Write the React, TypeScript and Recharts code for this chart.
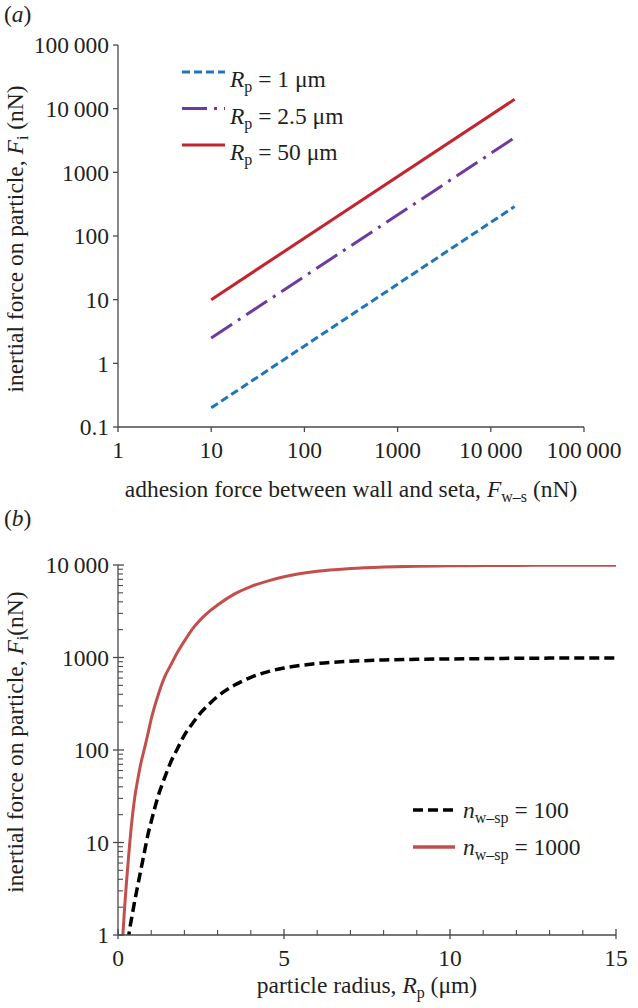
import React from "react";
import { LineChart, Line, XAxis, YAxis, Legend } from "recharts";

// (a) inertial force vs adhesion force, log-log
const adhesionForce = [10, 18000];
const inertialRp1 = [0.2, 290];
const inertialRp25 = [2.5, 3500];
const inertialRp50 = [10, 14000];
const forceTicksX = [1, 10, 100, 1000, 10000, 100000];
const forceTicksY = [0.1, 1, 10, 100, 1000, 10000, 100000];

// (b) inertial force vs particle radius
const radius = [
  0.1, 0.15, 0.2, 0.25, 0.3, 0.35, 0.4, 0.5, 0.6, 0.7, 0.8, 0.9, 1, 1.2, 1.4, 1.6, 1.8, 2, 2.25, 2.5,
  2.75, 3, 3.5, 4, 4.5, 5, 6, 7, 8, 9, 10, 11, 12, 13, 14, 15,
];
const inertialN100 = [
  null, null, null, null, 0.85, 1.15, 1.45, 2.3, 3.5, 5.3, 8, 12.1, 16.8, 31, 49.7, 75.5, 105, 145, 195, 255,
  315, 380, 500, 610, 700, 770, 860, 910, 940, 955, 965, 973, 980, 985, 988, 990,
];
const inertialN1000 = [
  0.6, 1.05, 2, 3.5, 5.8, 9.5, 14.8, 30, 49, 75, 105, 149, 216, 384, 609, 843, 1155, 1504, 2050, 2600,
  3150, 3700, 4850, 5850, 6700, 7450, 8550, 9150, 9500, 9700, 9800, 9860, 9900, 9920, 9935, 9950,
];
const radiusTicks = [0, 1, 2, 3, 4, 5, 6, 7, 8, 9, 10, 11, 12, 13, 14, 15];
const inertialTicks = [
  1, 2, 3, 4, 5, 6, 7, 8, 9, 10, 20, 30, 40, 50, 60, 70, 80, 90, 100, 200, 300, 400, 500, 600, 700, 800,
  900, 1000, 2000, 3000, 4000, 5000, 6000, 7000, 8000, 9000, 10000,
];

const dataA = adhesionForce.map((x, i) => ({
  x,
  rp1: inertialRp1[i],
  rp25: inertialRp25[i],
  rp50: inertialRp50[i],
}));

const dataB = radius.map((r, i) => ({ r, n100: inertialN100[i], n1000: inertialN1000[i] }));

const TEXT = "#231f20";
const AXIS = "#4a4a4a";
const FONT = "'Liberation Serif', 'Times New Roman', serif";
const FS = 23.5;
const SUB = 16;

const styleA: Record<string, { color: string; dash?: string }> = {
  rp1: { color: "#1f76ba", dash: "8 4" },
  rp25: { color: "#6d3a9f", dash: "25 7 3 7" },
  rp50: { color: "#c2252d" },
};
const styleB: Record<string, { color: string; dash?: string }> = {
  n100: { color: "#000000", dash: "10 5" },
  n1000: { color: "#c24f4c" },
};

function fmt(v: number) {
  if (v >= 10000) {
    const s = String(v);
    return s.slice(0, s.length - 3) + "\u2009" + s.slice(-3);
  }
  return String(v);
}

function isDecade(v: number) {
  const l = Math.log10(v);
  return Math.abs(l - Math.round(l)) < 1e-9;
}

function TickYA({ x, y, payload }: any) {
  return (
    <g>
      <line x1={x - 5} x2={x} y1={y} y2={y} stroke={AXIS} strokeWidth={1.3} />
      <text x={x - 9} y={y} dy="0.35em" textAnchor="end" fontSize={FS} fill={TEXT}>
        {fmt(payload.value)}
      </text>
    </g>
  );
}

function TickXA({ x, y, payload }: any) {
  return (
    <g>
      <line x1={x} x2={x} y1={y} y2={y + 5} stroke={AXIS} strokeWidth={1.3} />
      <text x={x} y={y + 31} textAnchor="middle" fontSize={FS} fill={TEXT}>
        {fmt(payload.value)}
      </text>
    </g>
  );
}

function TickYB({ x, y, payload }: any) {
  const v = payload.value;
  if (!isDecade(v)) {
    return <line x1={x} x2={x + 5} y1={y} y2={y} stroke={AXIS} strokeWidth={1.1} />;
  }
  return (
    <g>
      <line x1={x - 5} x2={x + 6} y1={y} y2={y} stroke={AXIS} strokeWidth={1.3} />
      <text x={x - 9} y={y} dy="0.35em" textAnchor="end" fontSize={FS} fill={TEXT}>
        {fmt(v)}
      </text>
    </g>
  );
}

function TickXB({ x, y, payload }: any) {
  const v = payload.value;
  if (v % 5 !== 0) {
    return <line x1={x} x2={x} y1={y - 5} y2={y} stroke={AXIS} strokeWidth={1.1} />;
  }
  return (
    <g>
      <line x1={x} x2={x} y1={y - 6} y2={y + 4} stroke={AXIS} strokeWidth={1.3} />
      <text x={x} y={y + 31} textAnchor="middle" fontSize={FS} fill={TEXT}>
        {v}
      </text>
    </g>
  );
}

function LegendA({ payload }: any) {
  return (
    <svg width={250} height={120} style={{ display: "block", overflow: "visible" }}>
      {(payload || []).map((e: any, i: number) => {
        const y = 22 + i * 36.5;
        const st = styleA[e.dataKey] || { color: e.color };
        return (
          <g key={i}>
            <line x1={4} x2={47} y1={y} y2={y} stroke={st.color} strokeWidth={3} strokeDasharray={st.dash} />
            <text x={52} y={y + 15} fontSize={FS} fill={TEXT} fontFamily={FONT}>
              <tspan fontStyle="italic">R</tspan>
              <tspan fontSize={SUB} dy={5}>p</tspan>
              <tspan dy={-5}>{" = " + e.value}</tspan>
            </text>
          </g>
        );
      })}
    </svg>
  );
}

function LegendB({ payload }: any) {
  return (
    <svg width={230} height={80} style={{ display: "block", overflow: "visible" }}>
      {(payload || []).map((e: any, i: number) => {
        const y = 15 + i * 37;
        const st = styleB[e.dataKey] || { color: e.color };
        return (
          <g key={i}>
            <line x1={5} x2={47} y1={y} y2={y} stroke={st.color} strokeWidth={3.5} strokeDasharray={st.dash} />
            <text x={55} y={y + 8} fontSize={FS} fill={TEXT} fontFamily={FONT}>
              <tspan fontStyle="italic">n</tspan>
              <tspan fontSize={SUB} dy={5}>w–sp</tspan>
              <tspan dy={-5}>{" = " + e.value}</tspan>
            </text>
          </g>
        );
      })}
    </svg>
  );
}

const panelLabel: React.CSSProperties = {
  position: "absolute",
  left: 4,
  fontSize: FS,
  lineHeight: "26px",
  color: TEXT,
  fontFamily: FONT,
};

export default function App() {
  return (
    <div
      style={{
        position: "absolute",
        left: 0,
        top: 0,
        width: 638,
        height: 1008,
        background: "#fff",
        fontFamily: FONT,
        color: TEXT,
      }}
    >
      <div style={{ position: "absolute", left: 0, top: 0 }}>
        <LineChart width={638} height={510} data={dataA} margin={{ top: 45, right: 54, left: 0, bottom: 0 }}>
          <XAxis
            dataKey="x"
            type="number"
            scale="log"
            domain={[1, 100000]}
            allowDataOverflow
            ticks={forceTicksX}
            interval={0}
            height={83}
            tickSize={0}
            tickMargin={0}
            tickLine={false}
            tick={<TickXA />}
            axisLine={{ stroke: AXIS, strokeWidth: 1.3 }}
            label={{
              content: () => (
                <text x={351} y={497} textAnchor="middle" fontSize={FS} fill={TEXT}>
                  adhesion force between wall and seta, <tspan fontStyle="italic">F</tspan>
                  <tspan fontSize={SUB} dy={5}>w–s</tspan>
                  <tspan dy={-5}> (nN)</tspan>
                </text>
              ),
            }}
          />
          <YAxis
            type="number"
            scale="log"
            domain={[0.1, 100000]}
            allowDataOverflow
            ticks={forceTicksY}
            interval={0}
            width={118}
            tickSize={0}
            tickMargin={0}
            tickLine={false}
            tick={<TickYA />}
            axisLine={{ stroke: AXIS, strokeWidth: 1.3 }}
            label={{
              content: () => (
                <text x={23} y={239} transform="rotate(-90 23 239)" textAnchor="middle" fontSize={FS} fill={TEXT}>
                  inertial force on particle, <tspan fontStyle="italic">F</tspan>
                  <tspan fontSize={SUB} dy={5}>i</tspan>
                  <tspan dy={-5}> (nN)</tspan>
                </text>
              ),
            }}
          />
          <Legend
            layout="vertical"
            align="center"
            verticalAlign="middle"
            wrapperStyle={{ left: 178, top: 50, width: 250 }}
            content={<LegendA />}
          />
          <Line type="linear" dataKey="rp1" name="1 μm" stroke={styleA.rp1.color} strokeWidth={3} strokeDasharray={styleA.rp1.dash} dot={false} isAnimationActive={false} />
          <Line type="linear" dataKey="rp25" name="2.5 μm" stroke={styleA.rp25.color} strokeWidth={3} strokeDasharray={styleA.rp25.dash} dot={false} isAnimationActive={false} />
          <Line type="linear" dataKey="rp50" name="50 μm" stroke={styleA.rp50.color} strokeWidth={3} dot={false} isAnimationActive={false} />
        </LineChart>
      </div>

      <div style={{ position: "absolute", left: 0, top: 510 }}>
        <LineChart width={638} height={498} data={dataB} margin={{ top: 55, right: 22, left: 0, bottom: 0 }}>
          <XAxis
            dataKey="r"
            type="number"
            domain={[0, 15]}
            allowDataOverflow
            ticks={radiusTicks}
            interval={0}
            height={73}
            tickSize={0}
            tickMargin={0}
            tickLine={false}
            tick={<TickXB />}
            axisLine={{ stroke: AXIS, strokeWidth: 1.3 }}
            label={{
              content: () => (
                <text x={367} y={483} textAnchor="middle" fontSize={FS} fill={TEXT}>
                  particle radius, <tspan fontStyle="italic">R</tspan>
                  <tspan fontSize={SUB} dy={5}>p</tspan>
                  <tspan dy={-5}> (μm)</tspan>
                </text>
              ),
            }}
          />
          <YAxis
            type="number"
            scale="log"
            domain={[1, 10000]}
            allowDataOverflow
            ticks={inertialTicks}
            interval={0}
            width={118}
            tickSize={0}
            tickMargin={0}
            tickLine={false}
            tick={<TickYB />}
            axisLine={{ stroke: AXIS, strokeWidth: 1.3 }}
            label={{
              content: () => (
                <text x={23} y={232} transform="rotate(-90 23 232)" textAnchor="middle" fontSize={FS} fill={TEXT}>
                  inertial force on particle, <tspan fontStyle="italic">F</tspan>
                  <tspan fontSize={SUB} dy={5}>i</tspan>
                  <tspan dy={-5}>(nN)</tspan>
                </text>
              ),
            }}
          />
          <Legend
            layout="vertical"
            align="center"
            verticalAlign="middle"
            wrapperStyle={{ left: 408, top: 285, width: 230 }}
            content={<LegendB />}
          />
          <Line type="monotone" dataKey="n100" name="100" stroke={styleB.n100.color} strokeWidth={3.5} strokeDasharray={styleB.n100.dash} dot={false} isAnimationActive={false} />
          <Line type="monotone" dataKey="n1000" name="1000" stroke={styleB.n1000.color} strokeWidth={3} dot={false} isAnimationActive={false} />
        </LineChart>
      </div>

      <div style={{ ...panelLabel, top: 1 }}>
        (<i>a</i>)
      </div>
      <div style={{ ...panelLabel, top: 505 }}>
        (<i>b</i>)
      </div>
    </div>
  );
}
